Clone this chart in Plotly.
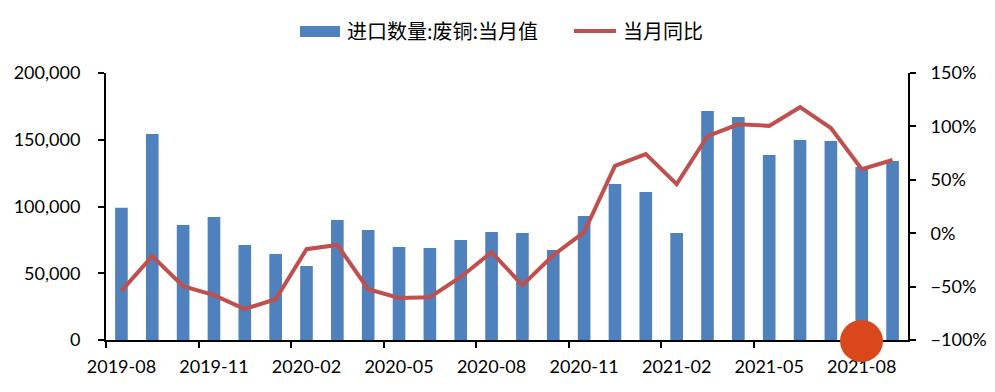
import plotly.graph_objects as go

months = ["2019-08", "2019-09", "2019-10", "2019-11", "2019-12", "2020-01", "2020-02",
          "2020-03", "2020-04", "2020-05", "2020-06", "2020-07", "2020-08", "2020-09",
          "2020-10", "2020-11", "2020-12", "2021-01", "2021-02", "2021-03", "2021-04",
          "2021-05", "2021-06", "2021-07", "2021-08", "2021-09"]
import_volume = [99000, 154300, 86100, 92100, 71200, 64400, 55400, 89900, 82400, 69700,
                 68900, 74900, 80900, 80100, 67400, 92900, 116900, 110900, 80100, 171500,
                 167000, 138600, 149800, 149100, 129600, 134100]
yoy_pct = [-54, -21.5, -49.6, -58, -71, -61.8, -15, -11, -52.4, -60.7, -59.9, -41, -17.8,
           -48.7, -20.6, 1, 63, 74, 46, 91, 102, 100.5, 118, 98.5, 60, 68.5]

bar_name = "进口数量:废铜:当月值"
line_name = "当月同比"
bar_color = "#4F81BD"
line_color = "#C0504D"

# page body has an 8px default margin; compensate so the chart lands where the reference is
OFF = 8
W, H = 995 - OFF, 392 - OFF
L, R, T, B = 106, 908, 73, 340  # plot area in reference pixels

def px(x):
    return (x - L) / (R - L)

def py(y):
    return (B - y) / (B - T)

fig = go.Figure()
fig.add_trace(go.Bar(x=months, y=import_volume, name=bar_name, marker_color=bar_color,
                     marker_line_width=0, yaxis="y"))
fig.add_trace(go.Scatter(x=months, y=yoy_pct, name=line_name, mode="lines",
                         line=dict(color=line_color, width=4), yaxis="y2"))

tick_font = dict(family="Lato, Carlito, sans-serif", size=18, color="#000000")
cjk = "Noto Sans CJK SC, sans-serif"

fig.update_layout(
    width=W, height=H,
    margin=dict(l=L - OFF, r=(995 - OFF) - (R - OFF), t=T - OFF, b=(392 - OFF) - (B - OFF),
                pad=0, autoexpand=False),
    paper_bgcolor="white", plot_bgcolor="white",
    showlegend=False,
    bargap=0.59,
    xaxis=dict(type="category", dtick=3, tickson="boundaries", ticks="outside",
               ticklen=6, tickwidth=2, tickcolor="black", showline=True, linecolor="black",
               linewidth=2, showgrid=False, tickfont=tick_font, ticklabelstandoff=9,
               tickangle=0, automargin=False, range=[-0.5, 25.5]),
    yaxis=dict(range=[0, 200000], dtick=50000, tickformat=",d", ticks="outside",
               ticklen=6, tickwidth=2, tickcolor="black", showline=True, linecolor="black",
               linewidth=2, showgrid=False, zeroline=False, tickfont=tick_font,
               ticklabelstandoff=14, automargin=False),
    yaxis2=dict(range=[-100, 150], dtick=50, ticksuffix="%", overlaying="y", side="right",
                ticks="outside", ticklen=6, tickwidth=2, tickcolor="black", showline=True,
                linecolor="black", linewidth=2, showgrid=False, zeroline=False,
                tickfont=tick_font, ticklabelstandoff=11, automargin=False),
)

# legend drawn manually to match the wide swatches
shapes = [
    dict(type="rect", xref="paper", yref="paper", x0=px(300), x1=px(340), y0=py(37), y1=py(26),
         fillcolor=bar_color, line=dict(width=0)),
    dict(type="line", xref="paper", yref="paper", x0=px(574), x1=px(616), y0=py(31), y1=py(31),
         line=dict(color=line_color, width=4)),
    # watermark logo disc
    dict(type="circle", xref="paper", yref="paper", x0=px(840), x1=px(883),
         y0=py(362), y1=py(320), fillcolor="#D9481C", line=dict(width=0), layer="above"),
]
annotations = [
    dict(xref="paper", yref="paper", x=px(345), y=py(30), text=bar_name, showarrow=False,
         xanchor="left", yanchor="middle", font=dict(family=cjk, size=20, color="#000000")),
    dict(xref="paper", yref="paper", x=px(621), y=py(30), text=line_name, showarrow=False,
         xanchor="left", yanchor="middle", font=dict(family=cjk, size=20, color="#000000")),
]
fig.update_layout(shapes=shapes, annotations=annotations)

fig.write_html("out.html")
